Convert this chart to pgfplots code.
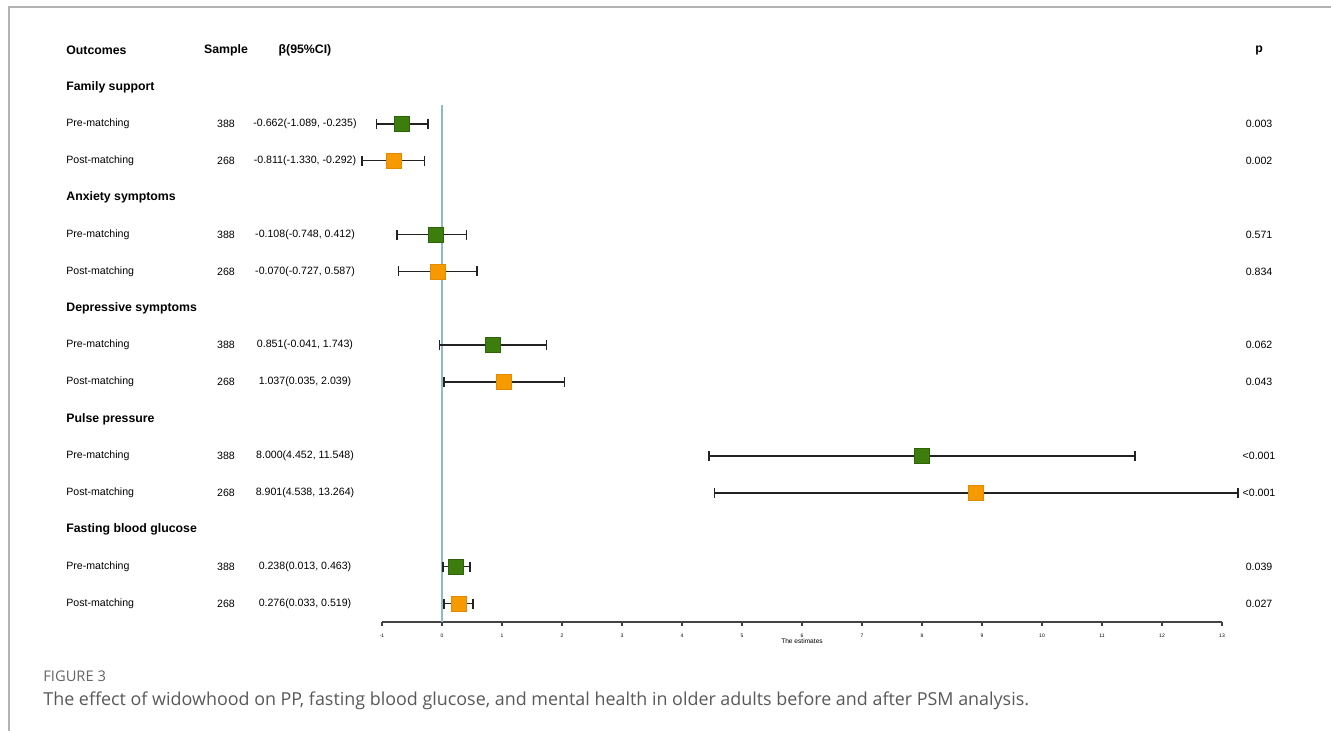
\documentclass[border=0pt]{standalone}
\usepackage{pgfplots}
\usepackage{pgfplotstable}
\pgfplotsset{compat=1.18}
\usepackage{fontspec}
\setmainfont{Liberation Sans}
\newfontfamily\capfont{Open Sans}
\definecolor{mgreen}{HTML}{3C7D0E}
\definecolor{mgreend}{HTML}{2E6308}
\definecolor{morange}{HTML}{F79A00}
\definecolor{moranged}{HTML}{E08A00}
\definecolor{refline}{HTML}{8FBCBC}
\definecolor{axgray}{HTML}{444444}
\definecolor{errc}{HTML}{222222}
\newcommand\bodyf{\fontsize{5.3}{6}\selectfont}
\newcommand\headf{\fontsize{6.15}{7}\selectfont\bfseries}
\pgfplotstableread{
b lo hi y
-0.662 -1.089 -0.235 13.5
-0.108 -0.748 0.412 10.5
0.851 -0.041 1.743 7.5
8.000 4.452 11.548 4.5
0.238 0.013 0.463 1.5
}\pretab
\pgfplotstableread{
b lo hi y
-0.811 -1.330 -0.292 12.5
-0.070 -0.727 0.587 9.5
1.037 0.035 2.039 6.5
8.901 4.538 13.264 3.5
0.276 0.033 0.519 0.5
}\posttab
\newcommand\rowtxt[5]{%
 \node[anchor=west,font=\bodyf,inner sep=0pt] at (axis cs:-6.267,#1) {#2};
 \node[font=\bodyf] at (axis cs:-3.6,#1) {#3};
 \node[font=\bodyf] at (axis cs:-2.283,#1) {#4};
 \node[font=\bodyf] at (axis cs:13.617,#1) {#5};}
\newcommand\grptxt[2]{%
 \node[anchor=west,font=\headf,inner sep=0pt] at (axis cs:-6.267,#1) {#2};}
\begin{document}
\begin{tikzpicture}[x=1pt,y=1pt]
\useasboundingbox (-191,-54.5) rectangle (474.5,311);
\begin{axis}[at={(0,0)}, anchor=south west,
 x=30pt, y=18.45pt, xmin=-1, xmax=13, ymin=0, ymax=14,
 axis x line=bottom, axis y line=none,
 axis line style={-, line width=0.8pt, color=axgray},
 xtick={-1,0,...,13}, ytick=\empty,
 tick align=outside, major tick length=2pt,
 tick style={line width=0.6pt, color=axgray},
 /pgf/number format/assume math mode=true,
 xticklabel style={font=\fontsize{2.5}{3}\selectfont, yshift=-0.6pt},
 xlabel={The estimates},
 xlabel style={font=\fontsize{3.3}{4}\selectfont, at={(axis description cs:0.5,0)}, anchor=center, yshift=-9.8pt},
 clip=false]
\addplot[refline, line width=0.6pt] coordinates {(0,0) (0,14)};
\addplot[only marks, mark=square*, mark size=3.75pt,
  mark options={fill=mgreen, draw=mgreend, line width=0.3pt},
  error bars/.cd, x dir=both, x explicit,
  error bar style={line width=0.75pt, errc},
  error mark options={rotate=90, line width=0.75pt, errc, mark size=2.5pt}]
  table[x=b, y=y, x error plus expr=\thisrow{hi}-\thisrow{b}, x error minus expr=\thisrow{b}-\thisrow{lo}] {\pretab};
\addplot[only marks, mark=square*, mark size=3.75pt,
  mark options={fill=morange, draw=moranged, line width=0.3pt},
  error bars/.cd, x dir=both, x explicit,
  error bar style={line width=0.75pt, errc},
  error mark options={rotate=90, line width=0.75pt, errc, mark size=2.5pt}]
  table[x=b, y=y, x error plus expr=\thisrow{hi}-\thisrow{b}, x error minus expr=\thisrow{b}-\thisrow{lo}] {\posttab};
\node[anchor=west,font=\headf,inner sep=0pt] at (axis cs:-6.267,15.5) {Outcomes};
\node[font=\headf] at (axis cs:-3.6,15.5) {Sample};
\node[font=\headf] at (axis cs:-2.283,15.5) {β(95\%CI)};
\node[font=\headf] at (axis cs:13.617,15.5) {p};
\grptxt{14.5}{Family support}
\rowtxt{13.5}{Pre-matching}{388}{-0.662(-1.089, -0.235)}{0.003}
\rowtxt{12.5}{Post-matching}{268}{-0.811(-1.330, -0.292)}{0.002}
\grptxt{11.5}{Anxiety symptoms}
\rowtxt{10.5}{Pre-matching}{388}{-0.108(-0.748, 0.412)}{0.571}
\rowtxt{9.5}{Post-matching}{268}{-0.070(-0.727, 0.587)}{0.834}
\grptxt{8.5}{Depressive symptoms}
\rowtxt{7.5}{Pre-matching}{388}{0.851(-0.041, 1.743)}{0.062}
\rowtxt{6.5}{Post-matching}{268}{1.037(0.035, 2.039)}{0.043}
\grptxt{5.5}{Pulse pressure}
\rowtxt{4.5}{Pre-matching}{388}{8.000(4.452, 11.548)}{<0.001}
\rowtxt{3.5}{Post-matching}{268}{8.901(4.538, 13.264)}{<0.001}
\grptxt{2.5}{Fasting blood glucose}
\rowtxt{1.5}{Pre-matching}{388}{0.238(0.013, 0.463)}{0.039}
\rowtxt{0.5}{Post-matching}{268}{0.276(0.033, 0.519)}{0.027}
\end{axis}
\draw[color=black!30, line width=0.75pt] (474.5,307.5) -- (-186.5,307.5) -- (-186.5,-54.5);
\node[anchor=west, font=\capfont\fontsize{7.35}{8}\selectfont, text=black!60, inner sep=0pt] at (-169.5,-27.3) {FIGURE 3};
\node[anchor=west, font=\capfont\fontsize{8.95}{10}\selectfont, text=black!65, inner sep=0pt] at (-169.5,-39.3) {The effect of widowhood on PP, fasting blood glucose, and mental health in older adults before and after PSM analysis.};
\end{tikzpicture}
\end{document}
